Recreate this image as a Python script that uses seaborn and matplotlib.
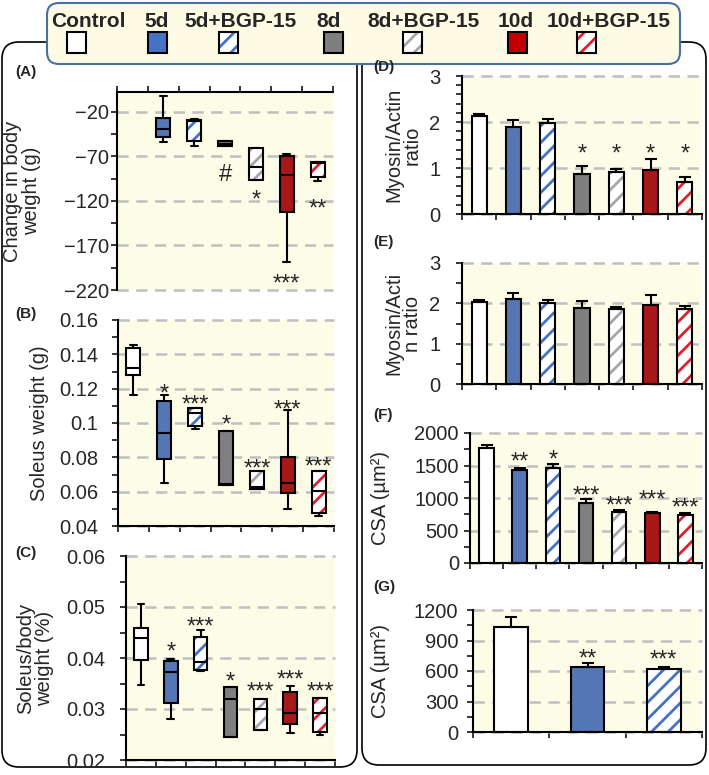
import numpy as np
import pandas as pd
import matplotlib
matplotlib.use("Agg")
import matplotlib.pyplot as plt
import seaborn as sns
from matplotlib.patches import FancyBboxPatch, Rectangle, PathPatch

sns.set_style("ticks")
plt.rcParams["font.family"] = ["Liberation Sans", "DejaVu Sans"]
plt.rcParams["hatch.linewidth"] = 2.0
plt.rcParams["axes.unicode_minus"] = True

groups = ["Control", "5d", "5d+BGP-15", "8d", "8d+BGP-15", "10d", "10d+BGP-15"]
face_colors = ["#ffffff", "#4472c4", "#ffffff", "#7f7f7f", "#ffffff", "#c00000", "#ffffff"]
stripe_colors = [None, None, "#4472c4", None, "#a6a6a6", None, "#e0202a"]

# box summaries per group: [min, q1, median, q3, max]
body_weight_change = [
    [],
    [-54, -48.7, -39.4, -27, -2],
    [-58, -52.5, -31, -29, -28],
    [-59, -59, -56, -53, -53],
    [-97, -97, -82, -61, -61],
    [-189, -133, -90.5, -70, -67],
    [-98, -93, -78, -76, -76],
]
soleus_weight = [
    [0.1166, 0.128, 0.1318, 0.1435, 0.1452],
    [0.0651, 0.0791, 0.0939, 0.1129, 0.1163],
    [0.0967, 0.0983, 0.106, 0.109, 0.109],
    [0.0638, 0.0638, 0.0645, 0.0953, 0.0953],
    [0.0616, 0.0616, 0.063, 0.0718, 0.0718],
    [0.050, 0.0593, 0.065, 0.080, 0.1075],
    [0.046, 0.0478, 0.0603, 0.072, 0.072],
]
soleus_body_ratio = [
    [0.0347, 0.0397, 0.0440, 0.0459, 0.0505],
    [0.0281, 0.0312, 0.0373, 0.0395, 0.0398],
    [0.0375, 0.0376, 0.0393, 0.0441, 0.0454],
    [0.0245, 0.0245, 0.032, 0.0344, 0.0344],
    [0.0259, 0.0259, 0.030, 0.032, 0.032],
    [0.0253, 0.0271, 0.0293, 0.0334, 0.0346],
    [0.025, 0.0255, 0.0293, 0.0322, 0.0322],
]

# bar panels: means and upper error
myo_actin_d = [2.13, 1.90, 1.97, 0.87, 0.92, 0.96, 0.70]
myo_actin_d_err = [0.04, 0.14, 0.09, 0.17, 0.05, 0.23, 0.10]
myo_actin_e = [2.04, 2.10, 2.00, 1.88, 1.86, 1.97, 1.86]
myo_actin_e_err = [0.04, 0.15, 0.08, 0.18, 0.04, 0.24, 0.08]
csa_f = [1769, 1426, 1462, 923, 779, 769, 733]
csa_f_err = [51, 36, 61, 62, 41, 16, 36]
groups_g = ["Control", "5d", "5d+BGP-15"]
csa_g = [1036, 635, 615]
csa_g_err = [92, 39, 26]

# significance marks and where they sit (baseline, data units)
nan = np.nan
stars_a = ["", "", "", "#", "*", "***", "**"]
stars_a_y = [nan, nan, nan, -98, -126, -221, -137]
stars_b = ["", "*", "***", "*", "***", "***", "***"]
stars_b_y = [nan, 0.1131, 0.1067, 0.0951, 0.0694, 0.1038, 0.0706]
stars_c = ["", "*", "***", "*", "***", "***", "***"]
stars_c_y = [nan, 0.0398, 0.0447, 0.0340, 0.0320, 0.0345, 0.0320]
stars_d = ["", "", "", "*", "*", "*", "*"]
stars_d_y = [nan, nan, nan, 1.16, 1.16, 1.16, 1.16]
stars_f = ["", "**", "*", "***", "***", "***", "***"]
stars_f_y = [nan, 1458, 1489, 935, 781, 874, 751]
stars_g = ["", "**", "***"]
stars_g_y = [nan, 652, 642]

BG = "#fdfce6"
GRID = "#bfbfbf"
FS = 14.5
STAR_FS = 17
W, H = 709, 775

fig = plt.figure(figsize=(W / 100, H / 100), dpi=100)


def px_axes(l, t, r, b):
    return fig.add_axes([l / W, 1 - b / H, (r - l) / W, (b - t) / H])


def stripe(ax, colors):
    # hatched groups: white face, coloured stripes, black outline on top
    inv = ax.transData.inverted()
    for p in list(ax.patches):
        ext = p.get_extents()
        cx = inv.transform(((ext.x0 + ext.x1) / 2, 0))[0]
        c = colors[int(round(cx))]
        if c is None:
            continue
        p.set_facecolor("white")
        p.set_edgecolor(c)
        p.set_hatch("//")
        p.set_linewidth(0)
        ax.add_patch(PathPatch(p.get_path(), transform=p.get_transform(), fill=False,
                               ec="black", lw=1.5, zorder=p.get_zorder() + 0.05))


def style(ax, n, ylim, major, minor, pad, top=False):
    ax.set_facecolor(BG)
    ax.set_xlim(-0.5, n - 0.5)
    ax.set_ylim(ylim)
    labels = [f"{v:g}".replace("-", "\u2212") for v in major]
    ax.set_yticks(major, labels)
    ax.set_yticks(minor, minor=True)
    ax.set_xticks(np.arange(n + 1) - 0.5)
    ax.set_xticklabels([])
    ax.set_xlabel("")
    ax.tick_params(axis="y", which="both", direction="out", length=4, width=1.3,
                   pad=pad, labelsize=FS)
    ax.tick_params(axis="x", direction="out", length=4, width=1.3)
    ax.yaxis.grid(True, which="major", color=GRID, lw=1.8, ls=(0, (4.5, 3)))
    ax.xaxis.grid(False)
    ax.set_axisbelow(True)
    for s in ax.spines.values():
        s.set_linewidth(1.5)
        s.set_color("black")
    ax.spines["right"].set_visible(False)
    if top:
        ax.spines["bottom"].set_visible(False)
        ax.xaxis.tick_top()
    else:
        ax.spines["top"].set_visible(False)
    for gl in ax.get_ygridlines():
        gl.set_clip_on(False)


def ylabel(ax, text, x_px):
    ax.set_ylabel(text, fontsize=FS, linespacing=1.0)
    ax.yaxis.label.set_verticalalignment("center")
    bb = ax.get_position()
    ax.yaxis.set_label_coords(x_px / W, (bb.y0 + bb.y1) / 2, transform=fig.transFigure)


def marks(ax, labels, ys):
    for i, (s, y) in enumerate(zip(labels, ys)):
        if s:
            ax.text(i, y, s, ha="center", va="baseline", fontsize=STAR_FS)


def box_panel(ax, summary):
    rows = [(g, v) for g, vals in zip(groups, summary) for v in vals]
    df = pd.DataFrame(rows, columns=["group", "value"])
    sns.boxplot(data=df, x="group", y="value", order=groups, hue="group",
                hue_order=groups, palette=dict(zip(groups, face_colors)),
                width=0.45, whis=(0, 100), fliersize=0, linecolor="black",
                linewidth=1.5, legend=False, ax=ax)


def bar_panel(ax, names, means, errs):
    sns.barplot(x=names, y=means, order=names, hue=names, hue_order=names,
                palette=dict(zip(groups, face_colors)), width=0.44, errorbar=None,
                edgecolor="black", linewidth=1.5, legend=False, ax=ax)
    ax.errorbar(np.arange(len(names)), means, yerr=[np.zeros(len(names)), errs],
                fmt="none", ecolor="black", elinewidth=1.5, capsize=4, capthick=1.5)


# panel frames and legend box
fig.add_artist(FancyBboxPatch((0.02, (H - 767) / 100), 3.55, 7.25,
                              boxstyle="round,pad=0,rounding_size=0.17",
                              transform=fig.dpi_scale_trans, fc="white", ec="black",
                              lw=1.2, zorder=-2))
fig.add_artist(FancyBboxPatch((3.62, (H - 765) / 100), 3.44, 7.23,
                              boxstyle="round,pad=0,rounding_size=0.17",
                              transform=fig.dpi_scale_trans, fc="white", ec="black",
                              lw=1.2, zorder=-2))
fig.add_artist(FancyBboxPatch((0.47, (H - 64) / 100), 6.33, 0.61,
                              boxstyle="round,pad=0,rounding_size=0.12",
                              transform=fig.dpi_scale_trans, fc="#fdfbe4", ec="#4a6fa5",
                              lw=1.5, zorder=1))

leg_text_x = [88, 157, 241, 329, 424, 516, 609]
leg_box_x = [76, 157, 228, 333, 412, 517, 586]
for i, g in enumerate(groups):
    fig.text(leg_text_x[i] / W, 1 - 27 / H, g, ha="center", va="baseline",
             fontsize=15, fontweight="bold", zorder=3)
    x0, y0 = (leg_box_x[i] - 9.5) / 100, (H - 53) / 100
    if stripe_colors[i]:
        fig.add_artist(Rectangle((x0, y0), 0.19, 0.21, transform=fig.dpi_scale_trans,
                                 fc="white", ec=stripe_colors[i], hatch="//", lw=0, zorder=3))
        fig.add_artist(Rectangle((x0, y0), 0.19, 0.21, transform=fig.dpi_scale_trans,
                                 fill=False, ec="black", lw=1.5, zorder=3.1))
    else:
        fig.add_artist(Rectangle((x0, y0), 0.19, 0.21, transform=fig.dpi_scale_trans,
                                 fc=face_colors[i], ec="black", lw=1.5, zorder=3))

# (A) change in body weight
ax = px_axes(117, 92, 333, 290)
box_panel(ax, body_weight_change)
style(ax, 7, (-220, 2), [-220, -170, -120, -70, -20], np.arange(-220, 1, 25), 2, top=True)
stripe(ax, stripe_colors)
marks(ax, stars_a, stars_a_y)
ylabel(ax, "Change in body\nweight (g)", 22)

# (B) soleus weight
ax = px_axes(118, 320, 334, 526)
box_panel(ax, soleus_weight)
style(ax, 7, (0.04, 0.16), [0.04, 0.06, 0.08, 0.1, 0.12, 0.14, 0.16],
      np.arange(0.04, 0.1601, 0.01), 10)
stripe(ax, stripe_colors)
marks(ax, stars_b, stars_b_y)
ylabel(ax, "Soleus weight (g)", 40)

# (C) soleus / body weight
ax = px_axes(126, 556, 335, 760)
box_panel(ax, soleus_body_ratio)
style(ax, 7, (0.02, 0.06), [0.02, 0.03, 0.04, 0.05, 0.06],
      np.arange(0.02, 0.0601, 0.005), 11)
stripe(ax, stripe_colors)
marks(ax, stars_c, stars_c_y)
ylabel(ax, "Soleus/body\nweight (%)", 35)

# (D) myosin/actin
ax = px_axes(462, 76, 702, 214)
bar_panel(ax, groups, myo_actin_d, myo_actin_d_err)
style(ax, 7, (0, 3), [0, 1, 2, 3], np.arange(0, 3.01, 0.2), 11.5)
stripe(ax, stripe_colors)
marks(ax, stars_d, stars_d_y)
ylabel(ax, "Myosin/Actin\nratio", 403)

# (E) myosin/actin
ax = px_axes(462, 263, 702, 384)
bar_panel(ax, groups, myo_actin_e, myo_actin_e_err)
style(ax, 7, (0, 3), [0, 1, 2, 3], np.arange(0, 3.01, 0.5), 11.5)
stripe(ax, stripe_colors)
ylabel(ax, "Myosin/Acti\nn ratio", 403)

# (F) CSA
ax = px_axes(470, 433, 702, 563)
bar_panel(ax, groups, csa_f, csa_f_err)
style(ax, 7, (0, 2000), [0, 500, 1000, 1500, 2000], np.arange(0, 2001, 250), 4)
stripe(ax, stripe_colors)
marks(ax, stars_f, stars_f_y)
ylabel(ax, "CSA (µm²)", 380)

# (G) CSA
ax = px_axes(473, 610, 702, 732)
bar_panel(ax, groups_g, csa_g, csa_g_err)
style(ax, 3, (0, 1200), [0, 300, 600, 900, 1200], np.arange(0, 1201, 150), 6.5)
stripe(ax, stripe_colors[:3])
marks(ax, stars_g, stars_g_y)
ylabel(ax, "CSA (µm²)", 380)

for lab, x, y in [("(A)", 15, 72), ("(B)", 15, 314), ("(C)", 15, 553), ("(D)", 373, 67),
                  ("(E)", 373, 242), ("(F)", 373, 415), ("(G)", 373, 587)]:
    fig.text(x / W, 1 - y / H, lab, fontsize=11, fontweight="bold", va="center", ha="left")

fig.savefig("out.png", dpi=100)
